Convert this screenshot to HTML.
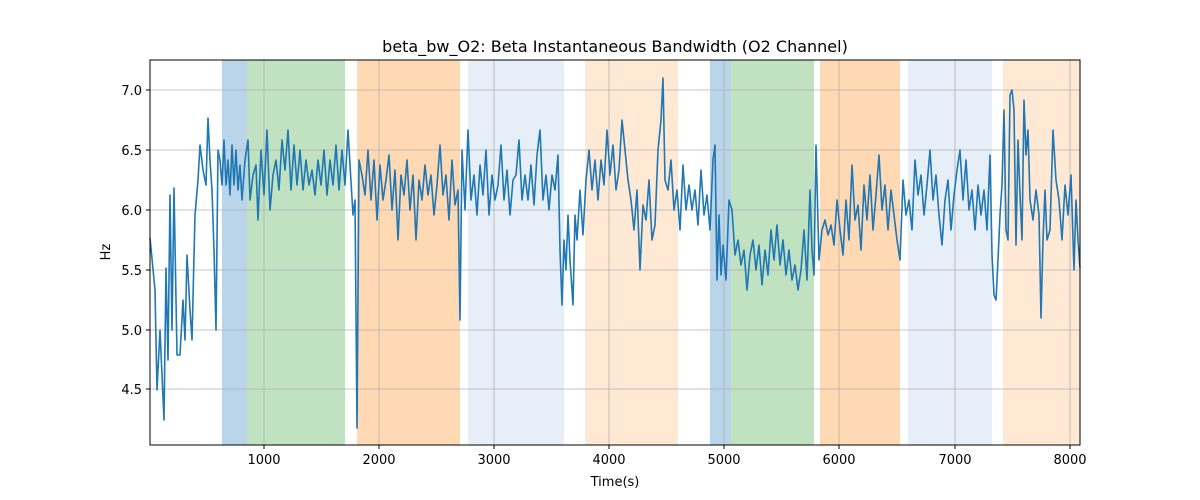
<!DOCTYPE html>
<html><head><style>body{margin:0;background:#fff}svg{display:block}text{font-family:"DejaVu Sans","Liberation Sans",sans-serif;fill:#000}</style></head><body>
<svg width="1200" height="500" xmlns="http://www.w3.org/2000/svg">
<rect width="1200" height="500" fill="#fff"/>
<g>
<rect x="222" y="60" width="25" height="385" fill="#bad4e9"/>
<rect x="247" y="60" width="98" height="385" fill="#c0e2c0"/>
<rect x="357" y="60" width="103" height="385" fill="#ffd8b4"/>
<rect x="468" y="60" width="96" height="385" fill="#e6eef7"/>
<rect x="585" y="60" width="93" height="385" fill="#ffe9d5"/>
<rect x="710" y="60" width="21" height="385" fill="#bad4e9"/>
<rect x="731" y="60" width="83" height="385" fill="#c0e2c0"/>
<rect x="820" y="60" width="80" height="385" fill="#ffd8b4"/>
<rect x="908" y="60" width="84" height="385" fill="#e6eef7"/>
<rect x="1003" y="60" width="77" height="385" fill="#ffe9d5"/>
</g>
<g stroke="#b0b0b0" stroke-width="0.8">
<line x1="264" y1="60" x2="264" y2="445"/><line x1="379" y1="60" x2="379" y2="445"/><line x1="494" y1="60" x2="494" y2="445"/><line x1="609" y1="60" x2="609" y2="445"/><line x1="724" y1="60" x2="724" y2="445"/><line x1="839" y1="60" x2="839" y2="445"/><line x1="955" y1="60" x2="955" y2="445"/><line x1="1070" y1="60" x2="1070" y2="445"/>
<line x1="150" y1="90" x2="1080" y2="90"/><line x1="150" y1="150" x2="1080" y2="150"/><line x1="150" y1="210" x2="1080" y2="210"/><line x1="150" y1="270" x2="1080" y2="270"/><line x1="150" y1="330" x2="1080" y2="330"/><line x1="150" y1="389" x2="1080" y2="389"/>
</g>
<polyline fill="none" stroke="#1f77b4" stroke-width="1.6" stroke-linejoin="round" points="150,238 155,290 157,390 160,330 162,375 164,420 166,268 168,360 170,195 172,330 174,188 177,355 180,355 183,300 185,340 187,255 190,310 192,340 195,215 198,180 200,145 203,170 206,185 208,118 210,160 212,190 214,250 216,330 218,150 220,160 222,185 224,140 226,185 228,160 230,195 232,145 234,185 236,150 238,190 240,165 242,200 245,160 248,140 250,200 253,175 256,165 258,220 261,150 264,195 267,130 270,210 273,175 276,160 279,190 282,140 285,170 288,130 291,190 294,145 297,185 300,150 303,190 306,160 309,185 312,170 315,195 318,160 321,185 324,150 327,195 330,160 333,185 336,145 339,190 342,150 345,185 348,130 350,165 353,215 355,200 357,428 359,160 362,175 365,195 368,150 371,200 374,160 377,220 380,165 383,200 386,180 389,155 392,210 395,170 398,240 401,175 404,195 407,160 410,210 413,175 416,240 419,180 422,200 425,165 428,195 431,175 434,215 437,185 440,145 443,195 446,175 449,220 452,160 455,205 458,190 460,320 462,150 465,210 468,130 471,200 474,175 477,215 480,165 483,195 486,150 489,215 492,175 495,200 498,185 501,145 504,200 507,170 510,215 513,180 516,175 519,140 522,200 525,175 528,200 531,165 534,205 537,155 540,130 543,200 546,175 549,210 552,175 555,190 558,155 560,250 562,305 564,240 566,270 568,215 570,260 573,305 575,215 577,240 580,190 583,235 586,180 589,150 592,190 595,160 598,200 601,160 604,185 607,130 610,175 613,145 616,190 619,170 622,120 625,150 628,180 631,200 634,230 637,190 640,270 643,205 646,220 649,180 652,240 655,225 658,150 661,120 663,78 665,180 668,190 671,160 674,210 677,190 680,230 683,165 686,210 689,185 692,210 695,190 698,225 701,170 704,215 707,195 710,230 713,160 715,145 717,280 719,215 721,275 723,245 726,280 729,200 732,210 735,255 738,240 741,265 744,250 747,290 750,255 753,240 756,270 759,245 762,285 765,250 768,275 771,230 774,260 777,225 780,265 783,240 786,275 789,250 792,280 795,265 798,290 801,270 804,230 807,280 810,190 812,250 814,275 816,145 819,260 822,230 825,220 828,235 831,225 834,245 837,200 840,230 843,255 846,200 849,240 852,165 855,220 858,205 861,250 864,185 867,220 870,175 873,230 876,195 879,155 882,210 885,185 888,230 891,190 894,215 897,240 900,260 903,180 906,215 909,200 912,230 915,160 918,195 921,175 924,215 927,185 930,150 933,200 936,175 939,215 942,245 945,200 948,180 951,230 954,195 957,170 960,150 963,200 966,160 969,210 972,190 975,230 978,185 981,215 984,190 987,230 990,155 992,255 994,295 996,300 998,260 1000,215 1002,185 1004,110 1006,230 1008,240 1010,95 1012,90 1014,110 1016,245 1018,140 1020,195 1022,240 1024,100 1026,155 1028,130 1030,200 1033,220 1036,190 1039,215 1041,318 1043,240 1045,190 1047,240 1050,230 1053,130 1056,180 1059,200 1062,240 1065,185 1068,215 1071,175 1074,270 1076,200 1078,240 1080,268"/>
<rect x="150" y="60" width="930" height="385" fill="none" stroke="#000" stroke-width="1"/>
<g stroke="#000" stroke-width="1">
<line x1="264" y1="445" x2="264" y2="449"/><line x1="379" y1="445" x2="379" y2="449"/><line x1="494" y1="445" x2="494" y2="449"/><line x1="609" y1="445" x2="609" y2="449"/><line x1="724" y1="445" x2="724" y2="449"/><line x1="839" y1="445" x2="839" y2="449"/><line x1="955" y1="445" x2="955" y2="449"/><line x1="1070" y1="445" x2="1070" y2="449"/>
<line x1="146" y1="90" x2="150" y2="90"/><line x1="146" y1="150" x2="150" y2="150"/><line x1="146" y1="210" x2="150" y2="210"/><line x1="146" y1="270" x2="150" y2="270"/><line x1="146" y1="330" x2="150" y2="330"/><line x1="146" y1="389" x2="150" y2="389"/>
</g>
<g font-size="13" text-anchor="middle">
<text x="264" y="464">1000</text><text x="379" y="464">2000</text><text x="494" y="464">3000</text><text x="609" y="464">4000</text><text x="724" y="464">5000</text><text x="839" y="464">6000</text><text x="955" y="464">7000</text><text x="1070" y="464">8000</text>
</g>
<g font-size="13" text-anchor="end">
<text x="142" y="95">7.0</text><text x="142" y="155">6.5</text><text x="142" y="215">6.0</text><text x="142" y="275">5.5</text><text x="142" y="335">5.0</text><text x="142" y="394">4.5</text>
</g>
<text x="615" y="486" font-size="13" text-anchor="middle">Time(s)</text>
<text x="110" y="252" font-size="13" text-anchor="middle" transform="rotate(-90 110 252)">Hz</text>
<text x="615" y="52" font-size="16" text-anchor="middle">beta_bw_O2: Beta Instantaneous Bandwidth (O2 Channel)</text>
</svg>
</body></html>
